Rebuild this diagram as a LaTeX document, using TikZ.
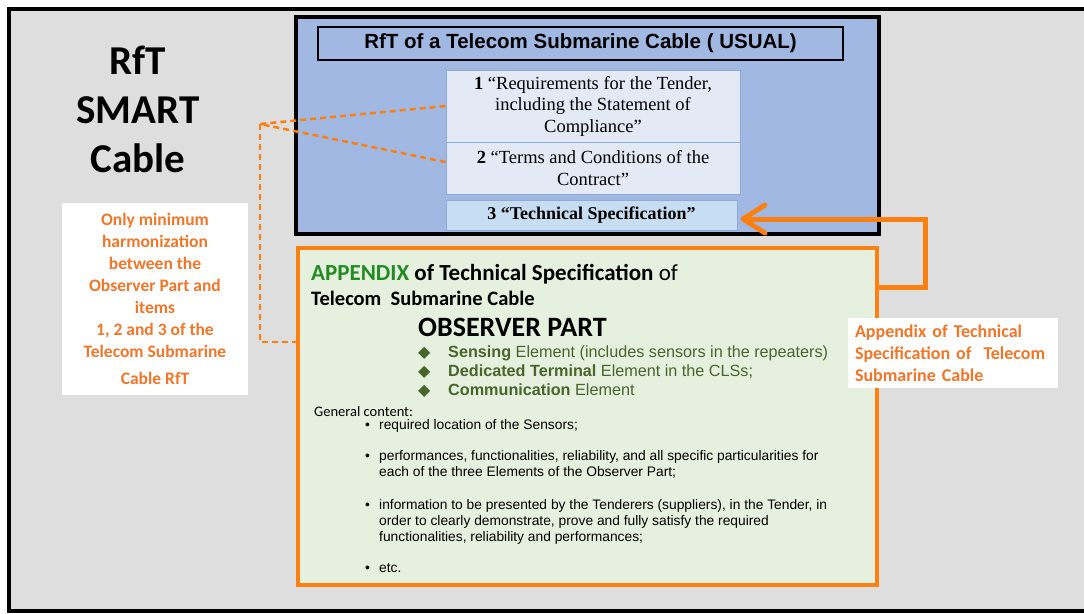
\documentclass[tikz,border=0pt]{standalone}
\usepackage{fontspec}
\setmainfont{Carlito}
\newfontfamily\arialf{Liberation Sans}
\newfontfamily\timesf{Liberation Serif}
\newfontfamily\symf{DejaVu Sans}
\usetikzlibrary{arrows.meta}

\definecolor{bgray}{RGB}{222,222,222}
\definecolor{rftblue}{RGB}{161,185,226}
\definecolor{itemfill}{RGB}{227,233,245}
\definecolor{itemline}{RGB}{142,169,219}
\definecolor{techfill}{RGB}{199,221,242}
\definecolor{apxfill}{RGB}{230,240,222}
\definecolor{apxorange}{RGB}{252,127,18}
\definecolor{noteorange}{RGB}{240,118,40}
\definecolor{apxgreen}{RGB}{34,139,34}
\definecolor{elemgreen}{RGB}{72,102,44}

\newcommand{\fsz}[2]{\fontsize{#1}{#2}\selectfont}

\tikzset{
  itembox/.style={draw=itemline, line width=1pt, fill=itemfill, minimum width=294pt,
    inner sep=0pt, align=center, font=\timesf\fsz{18.5}{21.5}},
  notebox/.style={fill=white, inner sep=0pt, align=center, text=noteorange,
    font=\bfseries\fsz{17.5}{22}},
  elem/.style={anchor=base west, inner sep=0pt, text=elemgreen, font=\arialf\fsz{16.2}{19}},
  genitem/.style={anchor=base west, inner sep=0pt, font=\arialf\fsz{13.8}{16}},
  dashline/.style={draw=apxorange, line width=2.5pt, dash pattern=on 6pt off 4pt},
  backarrow/.style={draw=apxorange, line width=5pt,
    -{Straight Barb[length=22pt, width=28pt, round]}}
}

\begin{document}
\begin{tikzpicture}[x=1pt, y=-1pt]
\path[use as bounding box, clip] (0,0) rectangle (1084,613);
\fill[white] (0,0) rectangle (1084,613);
% frame, open at the right
\fill[bgray] (9,9) rectangle (1084,611);
\draw[line width=4pt] (1090,9) -- (9,9) -- (9,611) -- (1090,611);

\node[align=center, font=\bfseries\fsz{41}{49}] (smart) at (138,109) {RfT\\SMART\\Cable};

% usual RfT
\node[draw, line width=4pt, fill=rftblue, minimum width=583pt, minimum height=217pt] (usual) at (587.5,125.5) {};
\node[draw, line width=2pt, fill=rftblue, minimum width=525pt, minimum height=33pt,
  font=\arialf\bfseries\fsz{20.5}{22}] (title) at (580.5,43.5) {RfT of a Telecom Submarine Cable ( USUAL)};
\node[itembox, minimum height=72pt] (it1) at (593,106)
  {\textbf{1} “Requirements for the Tender,\\including the Statement of\\Compliance”};
\node[itembox, minimum height=52pt] (it2) at (593,168)
  {\textbf{2} “Terms and Conditions of the\\Contract”};
\node[itembox, fill=techfill, minimum width=291pt, minimum height=30pt, font=\timesf\fsz{18}{20}] (it3) at (591.5,215)
  {\textbf{3 “Technical Specification”}};

% appendix
\node[draw=apxorange, line width=4pt, fill=apxfill, minimum width=579pt, minimum height=337pt] (appx) at (587.5,416.5) {};
\node[anchor=base west, inner sep=0pt, font=\fsz{23}{24}] (apxt) at (311,280)
  {\textbf{\textcolor{apxgreen}{APPENDIX} of Technical Specification} of};
\node[anchor=base west, inner sep=0pt, font=\bfseries\fsz{20.5}{22}] (apxt2) at (311,305)
  {Telecom\ \ Submarine Cable};
\node[anchor=base west, inner sep=0pt, font=\bfseries\fsz{28}{30}] (obs) at (418,336) {OBSERVER PART};
\node[elem] (el1) at (418,357)
  {\makebox[30pt][l]{\symf\fsz{16}{16}◆}\textbf{Sensing} Element (includes sensors in the repeaters)};
\node[elem] (el2) at (418,376)
  {\makebox[30pt][l]{\symf\fsz{16}{16}◆}\textbf{Dedicated Terminal} Element in the CLSs;};
\node[elem] (el3) at (418,395)
  {\makebox[30pt][l]{\symf\fsz{16}{16}◆}\textbf{Communication} Element};
\node[anchor=base west, inner sep=0pt, font=\fsz{14.5}{16}] (gen) at (314,416) {General content:};
\node[genitem] (g1) at (365,429)
  {\makebox[14pt][l]{•}required location of the Sensors;};
\node[genitem] (g2) at (365,460)
  {\makebox[14pt][l]{•}\parbox[t]{480pt}{performances, functionalities, reliability, and all specific particularities for\\each of the three Elements of the Observer Part;}};
\node[genitem] (g3) at (365,509)
  {\makebox[14pt][l]{•}\parbox[t]{480pt}{information to be presented by the Tenderers (suppliers), in the Tender, in\\order to clearly demonstrate, prove and fully satisfy the required\\functionalities, reliability and performances;}};
\node[genitem] (g4) at (365,572)
  {\makebox[14pt][l]{•}etc.};

% harmonization note
\node[notebox, minimum width=186pt, minimum height=192pt] (harm) at (155,299)
  {Only minimum\\harmonization\\between the\\Observer Part and\\items\\1, 2 and 3 of the\\Telecom Submarine\\[5pt]Cable RfT};
\coordinate (dk) at (260,124);
\draw[dashline] (it1.west) -- (dk) -- ([yshift=6pt]it2.west);
\draw[dashline] (dk) |- ([yshift=74.5pt]appx.west);

% appendix link
\draw[backarrow] (appx.north east) ++(0,41) -- ++(46,0) |- ([xshift=3pt, yshift=-4pt]it3.east);
\node[fill=white, inner xsep=7pt, inner ysep=0pt, minimum height=70pt, text width=196pt, align=left,
  text=noteorange, font=\bfseries\fsz{18}{22}] (apxnote) at (953,353)
  {Appendix of Technical\\Specification of\ \ Telecom\\Submarine Cable};
\end{tikzpicture}
\end{document}
